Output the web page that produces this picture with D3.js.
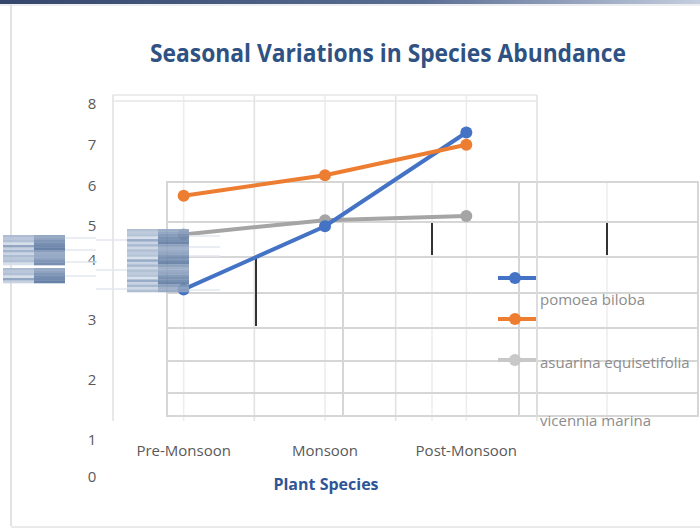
<!DOCTYPE html>
<html><head><meta charset="utf-8">
<script src="https://cdn.jsdelivr.net/npm/d3@7"></script>
<style>
html,body{margin:0;padding:0;background:#fff;}
svg{display:block;}
</style></head>
<body>
<svg id="chart" width="700" height="529"></svg>
<script>
// ---- data ----
const categories = ["Pre-Monsoon", "Monsoon", "Post-Monsoon"];
const seriesNames = ["pomoea biloba", "asuarina equisetifolia", "vicennia marina"];
const ipomoea = [3.45, 5.0, 7.3];
const orangeSeries = [5.75, 6.25, 7.0];
const graySeries = [4.8, 5.15, 5.25];
const yTickLabels = ["0", "1", "2", "3", "4", "5", "6", "7", "8"];
const titleText = "Seasonal Variations in Species Abundance";
const xTitleText = "Plant Species";

const svg = d3.select("#chart");
const FONT = "'Open Sans',sans-serif";

// frame
const grad = svg.append("defs").append("linearGradient").attr("id","topbar");
grad.append("stop").attr("offset","0%").attr("stop-color","#34466b");
grad.append("stop").attr("offset","60%").attr("stop-color","#5a6d93");
grad.append("stop").attr("offset","100%").attr("stop-color","#c4cede");
svg.append("rect").attr("x",0).attr("y",0).attr("width",700).attr("height",4).attr("fill","url(#topbar)");
svg.append("line").attr("x1",0).attr("x2",700).attr("y1",5).attr("y2",5).attr("stroke","#d8dce4").attr("stroke-width",1);
svg.append("line").attr("x1",11).attr("x2",11).attr("y1",5).attr("y2",526).attr("stroke","#d9d9d9").attr("stroke-width",1.5);
svg.append("line").attr("x1",11).attr("x2",700).attr("y1",527).attr("y2",527).attr("stroke","#e3e3e3").attr("stroke-width",1.5);

// scales
const x = d3.scaleBand().domain(categories).range([113, 537]).padding(0);
const xc = d => x(d) + x.bandwidth()/2;
const y = d3.scaleLinear().domain([0, 8]).range([430, 104]);
// tick label positions in the (distorted) reference
const yLab = d3.scaleLinear().domain([0,1,2,3,4,5,8]).range([477,440,380,320,260,226,104]);

// background plot gridlines (faint)
const bg = svg.append("g");
const vxs = [];
categories.forEach(c => { vxs.push(x(c)); vxs.push(xc(c)); });
vxs.push(x.range()[1]);
vxs.forEach((vx,i) => {
  bg.append("line").attr("x1",vx).attr("x2",vx).attr("y1",95).attr("y2",421)
    .attr("stroke", i%2===0 ? "#e2e2e2" : "#ededed").attr("stroke-width",1.6);
});
[95,101].forEach(yy => bg.append("line").attr("x1",113).attr("x2",537).attr("y1",yy).attr("y2",yy).attr("stroke","#e6e6e6").attr("stroke-width",1.6));
[432,607].forEach(vx => bg.append("line").attr("x1",vx).attr("x2",vx).attr("y1",182).attr("y2",421).attr("stroke","#eeeeee").attr("stroke-width",1.6));

// overlaid table grid
const tbl = svg.append("g");
const hys = [182,222,257,293,328,361,393,416];
hys.forEach(yy => tbl.append("line").attr("x1",167).attr("x2",698).attr("y1",yy).attr("y2",yy).attr("stroke","#d6d6d6").attr("stroke-width",2));
[167,343,519,698].forEach(vx => tbl.append("line").attr("x1",vx).attr("x2",vx).attr("y1",181).attr("y2",417).attr("stroke","#d6d6d6").attr("stroke-width",2));
tbl.append("line").attr("x1",537).attr("x2",537).attr("y1",182).attr("y2",417).attr("stroke","#dcdcdc").attr("stroke-width",1.8);
// dark short bars
[[256,257,326],[432,223,255],[607,223,255]].forEach(b => tbl.append("line").attr("x1",b[0]).attr("x2",b[0]).attr("y1",b[1]).attr("y2",b[2]).attr("stroke","#333").attr("stroke-width",2));

// title
svg.append("text").attr("x",388).attr("y",62).attr("text-anchor","middle")
  .attr("font-family",FONT).attr("font-weight","bold").attr("font-size",25)
  .attr("textLength",476).attr("lengthAdjust","spacingAndGlyphs")
  .attr("fill","#2f5283").text(titleText);

// y tick labels
svg.append("g").selectAll("text").data(yTickLabels).join("text")
  .attr("x",92).attr("y",d => yLab(+d)).attr("dy","0.35em").attr("text-anchor","middle")
  .attr("font-family",FONT).attr("font-size",15).attr("fill","#595959").text(d=>d);

// x tick labels
svg.append("g").selectAll("text").data(categories).join("text")
  .attr("x",d=>xc(d)).attr("y",451).attr("dy","0.35em").attr("text-anchor","middle")
  .attr("font-family",FONT).attr("font-size",15).attr("fill","#595959").text(d=>d);
svg.append("text").attr("x",326).attr("y",484).attr("dy","0.35em").attr("text-anchor","middle")
  .attr("font-family",FONT).attr("font-weight","bold").attr("font-size",16).attr("fill","#2f5597").text(xTitleText);

// series lines
const series = [
  {name: seriesNames[0], values: ipomoea, color: "#4472c4"},
  {name: seriesNames[1], values: orangeSeries, color: "#ed7d31"},
  {name: seriesNames[2], values: graySeries, color: "#a5a5a5"}
];
const line = d3.line().x((d,i)=>xc(categories[i])).y(d=>y(d));
const lg = svg.append("g");
[series[2], series[0], series[1]].forEach(s => {
  lg.append("path").attr("d", line(s.values)).attr("fill","none").attr("stroke",s.color).attr("stroke-width",4).attr("stroke-linecap","round");
  lg.selectAll(null).data(s.values).join("circle").attr("cx",(d,i)=>xc(categories[i])).attr("cy",d=>y(d)).attr("r",6).attr("fill",s.color);
});

// glitch striped blocks
const lightShades = ["#c3cfe0","#a9b9d0","#d4dde9","#9fb1cb","#b8c6da","#8da2c1","#c9d4e3","#adbdd3"];
const darkShades = ["#8298b8","#6f88ac","#90a4c1","#5f7ba3","#7a92b4","#96a9c4","#6a84a9","#8a9fbd"];
function block(x0, y0, w, h, op) {
  const g = svg.append("g").attr("opacity",op);
  const n = Math.round(h/2.5);
  for (let i=0;i<n;i++) {
    g.append("rect").attr("x",x0).attr("y",y0 + i*h/n).attr("width",w/2).attr("height",h/n+0.3)
      .attr("fill",lightShades[(i*3+1)%lightShades.length]);
    g.append("rect").attr("x",x0+w/2).attr("y",y0 + i*h/n).attr("width",w/2).attr("height",h/n+0.3)
      .attr("fill",darkShades[(i*5+2)%darkShades.length]);
  }
  return g;
}
block(3,235,62,30,0.95);
block(3,268,62,15,0.95);
block(127,229,62,63,0.9);
// faint trailing lines
[[65,96,238],[65,96,250],[65,96,262],[65,96,276],[189,220,236],[189,220,247],[189,220,256],[189,220,290],[96,127,240],[96,127,270],[96,127,289]].forEach(l =>
  svg.append("line").attr("x1",l[0]).attr("x2",l[1]).attr("y1",l[2]).attr("y2",l[2]).attr("stroke","#e3e8f0").attr("stroke-width",1.5));

// legend
const legY = [278, 319, 360];
const legColors = ["#4472c4","#ed7d31","#c8c8c8"];
legColors.forEach((c,i) => {
  svg.append("line").attr("x1",498).attr("x2",536).attr("y1",legY[i]).attr("y2",legY[i]).attr("stroke",c).attr("stroke-width",4);
  svg.append("circle").attr("cx",515).attr("cy",legY[i]).attr("r",6).attr("fill",c);
});
const legTextY = [300, 363, 421];
seriesNames.forEach((n,i) => {
  svg.append("text").attr("x",540).attr("y",legTextY[i]).attr("dy","0.35em")
    .attr("font-family",FONT).attr("font-size",15).attr("fill","#8c8c8c").text(n);
});
</script>
</body></html>
